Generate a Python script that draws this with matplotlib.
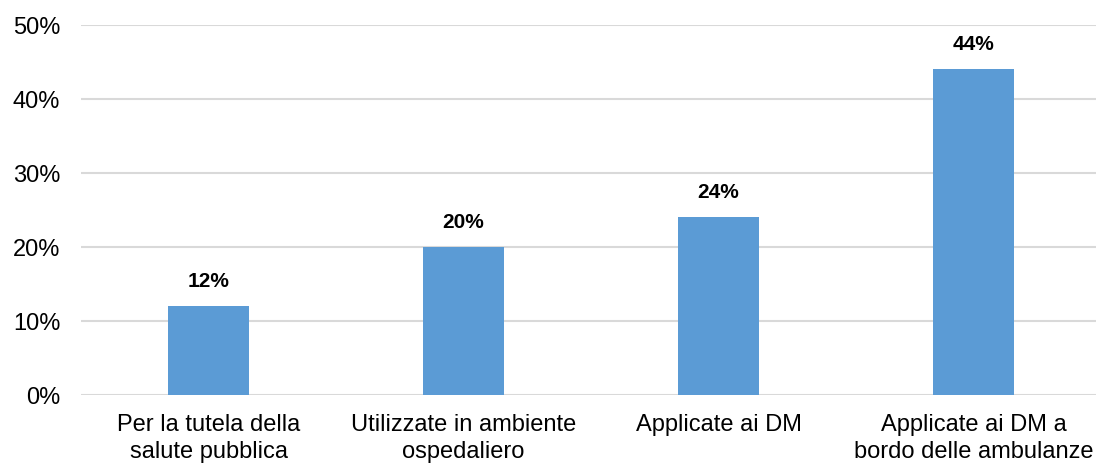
import numpy as np
import matplotlib.pyplot as plt

plt.rcParams['font.family'] = ['Liberation Sans', 'DejaVu Sans']

categories = ["Per la tutela della\nsalute pubblica",
              "Utilizzate in ambiente\nospedaliero",
              "Applicate ai DM",
              "Applicate ai DM a\nbordo delle ambulanze"]
values = [12, 20, 24, 44]
yticks = [0, 10, 20, 30, 40, 50]

W, H = 1096, 463
fig = plt.figure(figsize=(W / 100, H / 100), dpi=100)
ax = fig.add_axes([81 / W, 68 / H, (W - 81) / W, 370 / H])

x = np.arange(len(categories))
bars = ax.bar(x, values, width=0.314, color='#5B9BD5', zorder=3)

for b, v in zip(bars, values):
    ax.annotate(f"{v}%", (b.get_x() + b.get_width() / 2, v),
                xytext=(0, 18), textcoords='offset points',
                ha='center', va='center', fontsize=15, fontweight='bold')

ax.set_xlim(-0.5, -0.5 + (W - 81) / 255)
ax.set_ylim(0, 50)
ax.set_yticks(yticks)
ax.set_yticklabels([f"{t}%" for t in yticks], fontsize=17)
ax.set_xticks(x)
ax.set_xticklabels(categories, fontsize=17, linespacing=1.28)

ax.grid(axis='y', color='#D9D9D9', linewidth=1.5, zorder=0)
for s in ax.spines.values():
    s.set_visible(False)
ax.tick_params(length=0)
ax.tick_params(axis='y', pad=15)
ax.tick_params(axis='x', pad=14)

fig.savefig('out.png', dpi=100)
